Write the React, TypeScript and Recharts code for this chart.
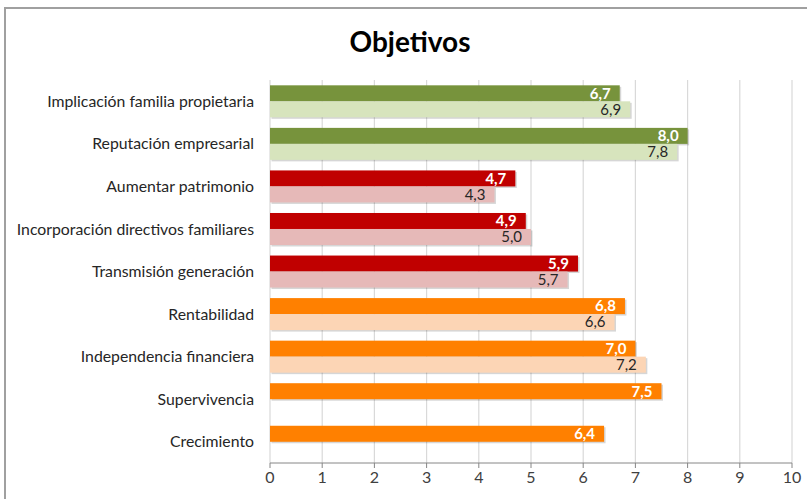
import React from 'react';
import { BarChart, Bar, XAxis, YAxis, CartesianGrid, LabelList, Cell } from 'recharts';

const categories = [
  'Implicación familia propietaria',
  'Reputación empresarial',
  'Aumentar patrimonio',
  'Incorporación directivos familiares',
  'Transmisión generación',
  'Rentabilidad',
  'Independencia financiera',
  'Supervivencia',
  'Crecimiento',
];
const serieA: (number | null)[] = [6.7, 8.0, 4.7, 4.9, 5.9, 6.8, 7.0, 7.5, 6.4];
const serieB: (number | null)[] = [6.9, 7.8, 4.3, 5.0, 5.7, 6.6, 7.2, null, null];
const groups = ['g', 'g', 'r', 'r', 'r', 'o', 'o', 'o', 'o'];
const xTicks = [0, 1, 2, 3, 4, 5, 6, 7, 8, 9, 10];
const boundaryTicks = [0, 1, 2, 3, 4, 5, 6, 7, 8, 9];

const darkColors: Record<string, string> = { g: '#77933C', r: '#C00000', o: '#FF8000' };
const lightColors: Record<string, string> = { g: '#D7E4BD', r: '#E6B9B8', o: '#FCD5B5' };

const data = categories.map((name, i) => ({ name, a: serieA[i], b: serieB[i], group: groups[i] }));

const FONT = 'Lato, "Open Sans", sans-serif';

const fmt = (v: any) => (v == null ? '' : Number(v).toFixed(1).replace('.', ','));

const ShadowBar = (props: any) => {
  const { x, y, width, height, fill } = props;
  if (!width || width <= 0) return null;
  return (
    <g>
      <rect x={x + 1.5} y={y + 1.5} width={width} height={height} fill="#000" opacity={0.16} />
      <rect x={x} y={y} width={width} height={height} fill={fill} />
    </g>
  );
};

export default function App() {
  return (
    <div style={{ position: 'absolute', left: 0, top: 0, width: 807, height: 499, background: '#fff', overflow: 'hidden' }}>
      <div
        style={{
          position: 'absolute',
          left: 4,
          top: 7,
          width: 900,
          height: 600,
          border: '2px solid #a0a0a0',
          boxSizing: 'border-box',
        }}
      />
      <div
        style={{
          position: 'absolute',
          left: 0,
          width: 820,
          top: 24,
          textAlign: 'center',
          fontFamily: FONT,
          fontWeight: 700,
          fontSize: 28,
          lineHeight: '34px',
          color: '#000',
        }}
      >
        Objetivos
      </div>
      <div style={{ position: 'absolute', left: 0, top: 0 }}>
        <BarChart
          width={807}
          height={499}
          data={data}
          layout="vertical"
          margin={{ top: 80, right: 15, bottom: 6, left: 0 }}
          barCategoryGap="12.5%"
          barGap={0}
        >
          <CartesianGrid horizontal={false} stroke="#d9d9d9" strokeWidth={1.2} />
          <XAxis
            type="number"
            domain={[0, 10]}
            ticks={xTicks}
            height={30}
            interval={0}
            tickSize={5}
            tickMargin={4}
            axisLine={{ stroke: '#868686' }}
            tickLine={{ stroke: '#868686' }}
            tick={{ fill: '#404040', fontSize: 16, fontFamily: FONT }}
          />
          <YAxis
            yAxisId={0}
            type="number"
            domain={[0, 9]}
            ticks={boundaryTicks}
            interval={0}
            width={0}
            tick={false}
            tickSize={4}
            axisLine={{ stroke: '#868686' }}
            tickLine={{ stroke: '#868686' }}
          />
          <YAxis
            yAxisId={1}
            type="category"
            dataKey="name"
            width={270}
            interval={0}
            axisLine={false}
            tickLine={false}
            tickSize={0}
            tickMargin={16}
            tick={{ fill: '#262626', fontSize: 15.8, fontFamily: FONT }}
          />
          <Bar yAxisId={1} dataKey="a" isAnimationActive={false} shape={<ShadowBar />}>
            {data.map((d, i) => (
              <Cell key={i} fill={darkColors[d.group]} />
            ))}
            <LabelList
              dataKey="a"
              position="insideRight"
              offset={9}
              formatter={fmt}
              style={{ fill: '#fff', fontWeight: 700, fontSize: 15, fontFamily: FONT }}
            />
          </Bar>
          <Bar yAxisId={1} dataKey="b" isAnimationActive={false} shape={<ShadowBar />}>
            {data.map((d, i) => (
              <Cell key={i} fill={lightColors[d.group]} />
            ))}
            <LabelList
              dataKey="b"
              position="insideRight"
              offset={9}
              formatter={fmt}
              style={{ fill: '#262626', fontSize: 15, fontFamily: FONT }}
            />
          </Bar>
        </BarChart>
      </div>
    </div>
  );
}
